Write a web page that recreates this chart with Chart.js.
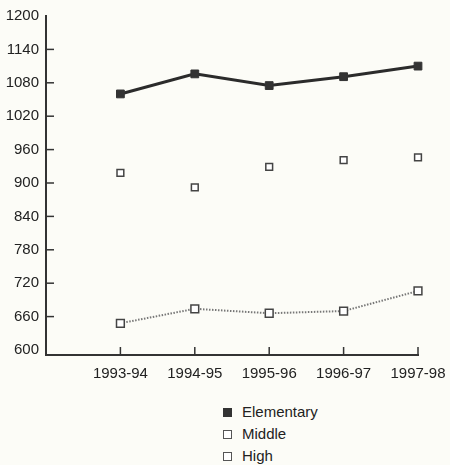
<!DOCTYPE html>
<html><head><meta charset="utf-8">
<script src="https://cdn.jsdelivr.net/npm/chart.js@4"></script>
<style>
html,body{margin:0;padding:0;background:#fcfcf7;}
#wrap{position:relative;width:450px;height:465px;}
#c{position:absolute;left:0;top:0;}
#legend{position:absolute;left:223px;top:401px;font-family:"Liberation Sans",Arial,sans-serif;font-size:15px;color:#222;}
.row{height:22px;line-height:22px;display:flex;align-items:center;}
.mk{width:9px;height:9px;box-sizing:border-box;margin-right:10px;}
</style></head>
<body><div id="wrap"><canvas id="c" width="450" height="395"></canvas><div id="legend"></div></div>
<script>
const categories = ['1993-94','1994-95','1995-96','1996-97','1997-98'];
const elementary = [1060, 1096, 1075, 1091, 1110];
const middle = [918, 892, 929, 941, 946];
const high = [648, 674, 666, 670, 706];
const yTicks = [600,660,720,780,840,900,960,1020,1080,1140,1200];
const seriesNames = ['Elementary','Middle','High'];

const FONT = {family:'"Liberation Sans", Arial, sans-serif', size:15};
const toXY = arr => arr.map((v,i)=>({x:i+1,y:v}));

const innerTicks = {
  id:'innerTicks',
  afterDraw(chart){
    const ctx = chart.ctx, xs = chart.scales.x, ys = chart.scales.y;
    ctx.save();
    ctx.strokeStyle = '#333'; ctx.lineWidth = 1.5;
    ys.ticks.forEach((t,i)=>{
      if (t.value === 1200 || t.value === 600) return;
      const py = ys.getPixelForValue(t.value);
      ctx.beginPath(); ctx.moveTo(xs.left, py); ctx.lineTo(xs.left+8, py); ctx.stroke();
    });
    xs.ticks.forEach(t=>{
      const px = xs.getPixelForValue(t.value);
      ctx.beginPath(); ctx.moveTo(px, ys.bottom); ctx.lineTo(px, ys.bottom-8); ctx.stroke();
    });
    ctx.restore();
  }
};

new Chart(document.getElementById('c'), {
  type:'line',
  data:{datasets:[
    {label:seriesNames[0], data:toXY(elementary), borderColor:'#2b2b2b', borderWidth:3, clip:false,
     pointStyle:'rect', pointRadius:5.5, pointBackgroundColor:'#333', pointBorderColor:'#333', pointBorderWidth:1, tension:0},
    {label:seriesNames[1], data:toXY(middle), showLine:false, clip:false,
     pointStyle:'rect', pointRadius:4.8, pointBackgroundColor:'#fff', pointBorderColor:'#444', pointBorderWidth:1.5},
    {label:seriesNames[2], data:toXY(high), borderColor:'#777', borderWidth:2, borderDash:[1.5,1.5], clip:false,
     pointStyle:'rect', pointRadius:5.5, pointBackgroundColor:'#fff', pointBorderColor:'#444', pointBorderWidth:1.5, tension:0}
  ]},
  options:{
    responsive:false, animation:false,
    layout:{padding:{top:15,right:32,left:0,bottom:0}},
    plugins:{legend:{display:false}, tooltip:{enabled:false}},
    scales:{
      x:{type:'linear', min:0, max:5,
        afterBuildTicks:ax=>{ax.ticks = categories.map((c,i)=>({value:i+1}));},
        afterFit:ax=>{ax.height = 40; ax.paddingRight = 0; ax.paddingLeft = 0;},
        ticks:{font:FONT, color:'#222', padding:10, maxRotation:0, autoSkip:false,
          callback:(v)=>categories[v-1] || ''},
        grid:{display:false, drawTicks:false},
        border:{display:true, color:'#333', width:2}
      },
      y:{type:'linear', min:591, max:1200,
        afterBuildTicks:ax=>{ax.ticks = yTicks.map(v=>({value:v}));},
        afterFit:ax=>{ax.width = 46;},
        ticks:{font:FONT, color:'#222', padding:7, callback:(v)=>String(v)},
        grid:{display:false, drawTicks:false},
        border:{display:true, color:'#333', width:2}
      }
    }
  },
  plugins:[innerTicks]
});

const leg = document.getElementById('legend');
seriesNames.forEach((n,i)=>{
  const r = document.createElement('div'); r.className='row';
  const m = document.createElement('span'); m.className='mk';
  m.style.background = i===0 ? '#333' : '#fff';
  m.style.border = i===0 ? '1px solid #333' : '1.5px solid #555';
  const t = document.createElement('span'); t.textContent = n;
  r.appendChild(m); r.appendChild(t); leg.appendChild(r);
});
</script></body></html>
